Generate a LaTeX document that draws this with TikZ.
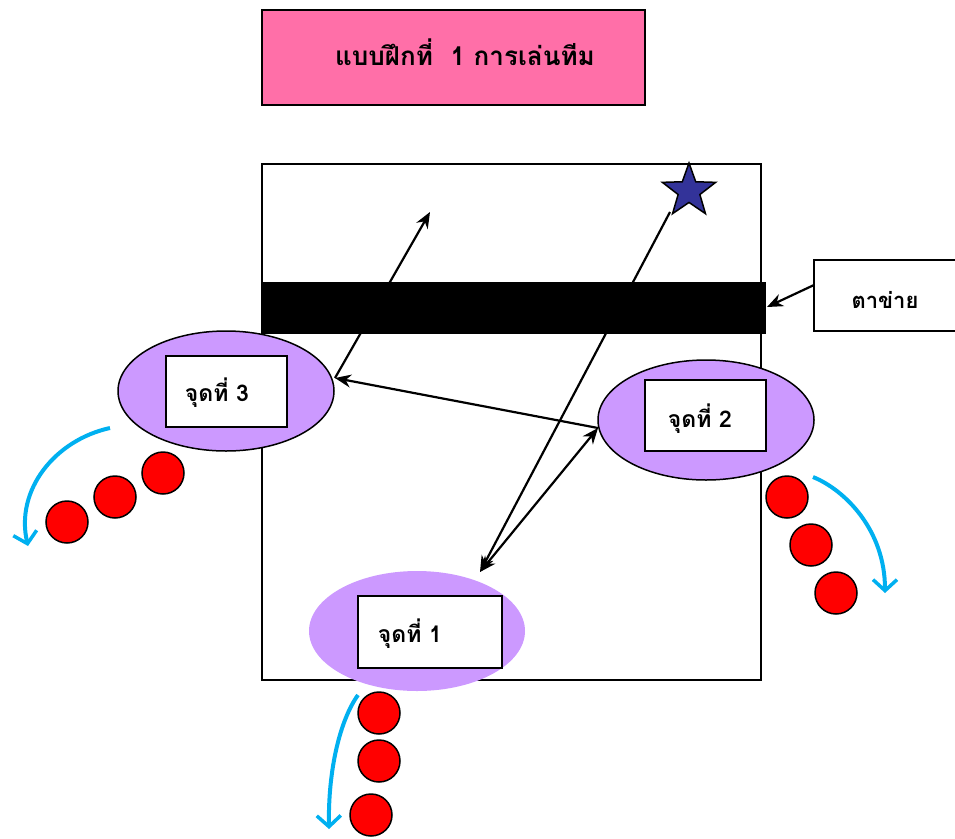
\documentclass[tikz,border=0pt]{standalone}
\usepackage{fontspec}
\newfontfamily\thai[Script=Thai]{Loma}
\usetikzlibrary{shapes.geometric,arrows.meta}
\definecolor{titlepink}{HTML}{FF6FA8}
\definecolor{lav}{HTML}{CC99FF}
\definecolor{skyb}{HTML}{00B0F0}
\definecolor{starblue}{HTML}{333399}
\tikzset{
  box/.style={draw=black,line width=2pt,fill=white,rectangle,inner sep=0pt},
  zone/.style={ellipse,fill=lav,minimum width=216pt,minimum height=120pt,inner sep=0pt},
  ball/.style={circle,draw=black,line width=1.5pt,fill=red,minimum size=42pt,inner sep=0pt},
  txt/.style={font=\thai\bfseries\fontsize{23}{27}\selectfont,inner sep=0pt},
  tip/.style={Stealth[length=16pt,width=13pt]},
  pass/.style={line width=2.2pt,-{Stealth[length=16pt,width=13pt]}},
  turn/.style={skyb,line width=4pt,-{Straight Barb[length=11pt,width=24pt,line width=3.5pt]}},
}
\begin{document}
\begin{tikzpicture}[x=1pt,y=-1pt]
\useasboundingbox (0,0) rectangle (955,838);
% title
\node[box,fill=titlepink,minimum width=383pt,minimum height=95pt] (title) at (453.5,57.5) {};
\node[txt,font=\thai\bfseries\fontsize{26}{30}\selectfont] (titletxt) at (465,52) {แบบฝึกที่~~1 การเล่นทีม};
% court
\node[draw=black,line width=1.8pt,rectangle,minimum width=499pt,minimum height=516pt,inner sep=0pt] (court) at (511.5,422) {};
% net
\node[fill=black,rectangle,minimum width=504pt,minimum height=52pt,inner sep=0pt] (net) at (514,308) {};
% net label
\node[box,minimum width=150pt,minimum height=71pt] (lbl) at (889,295.5) {};
\node[txt,font=\thai\bfseries\fontsize{22}{26}\selectfont] (lbltxt) at (885,300) {ตาข่าย};
\coordinate (lblp) at (814,285);
\draw[pass] (lblp) -- (767,307);
% star
\node[star,star points=5,star point ratio=2.45,minimum size=56pt,fill=starblue,draw=black,line width=1.5pt,inner sep=0pt] (star) at (689,191) {};
% zones
\node[zone,draw=black,line width=1.5pt] (e3) at (226,391) {};
\node[box,minimum width=121pt,minimum height=71pt] (b3) at (226.5,391.5) {};
\node[txt] (t3) at (217,393) {จุดที่ 3};
\node[zone,draw=black,line width=1.5pt] (e2) at (706,420) {};
\node[box,minimum width=121pt,minimum height=71pt] (b2) at (705.5,415.5) {};
\node[txt] (t2) at (700,419) {จุดที่ 2};
\node[zone] (e1) at (417,631) {};
\node[box,minimum width=144pt,minimum height=72pt] (b1) at (430,632) {};
\node[txt] (t1) at (410,634) {จุดที่ 1};
% passes
\coordinate (s0) at (670,212);
\coordinate (p1) at (480,572);
\coordinate (up) at (430,212);
\coordinate (e2l) at (598,428);
\coordinate (e3r) at (335,378);
\draw[pass] (e3r) -- (up);
\draw[pass] (e2l) -- (e3r);
\draw[pass] (s0) -- (p1);
\draw[pass,{Stealth[length=16pt,width=13pt]}-{Stealth[length=16pt,width=13pt]}] (p1) -- (e2l);
% balls left
\node[ball] (l1) at (163,473) {};
\node[ball] (l2) at (115,497) {};
\node[ball] (l3) at (67,522) {};
\coordinate (la) at (110,428);
\coordinate (lb) at (28,546);
\draw[turn] (la) .. controls (55,440) and (15,490) .. (lb);
% balls right
\node[ball] (r1) at (787,497) {};
\node[ball] (r2) at (811,545) {};
\node[ball] (r3) at (836,593) {};
\coordinate (ra) at (813,477);
\coordinate (rb) at (885,593);
\draw[turn] (ra) .. controls (845,490) and (885,530) .. (rb);
% balls bottom
\node[ball] (d1) at (379,713) {};
\node[ball] (d2) at (379,761) {};
\node[ball] (d3) at (371,815) {};
\coordinate (da) at (358,695);
\coordinate (db) at (329,829);
\draw[turn] (da) .. controls (340,720) and (328,770) .. (db);
\end{tikzpicture}
\end{document}
